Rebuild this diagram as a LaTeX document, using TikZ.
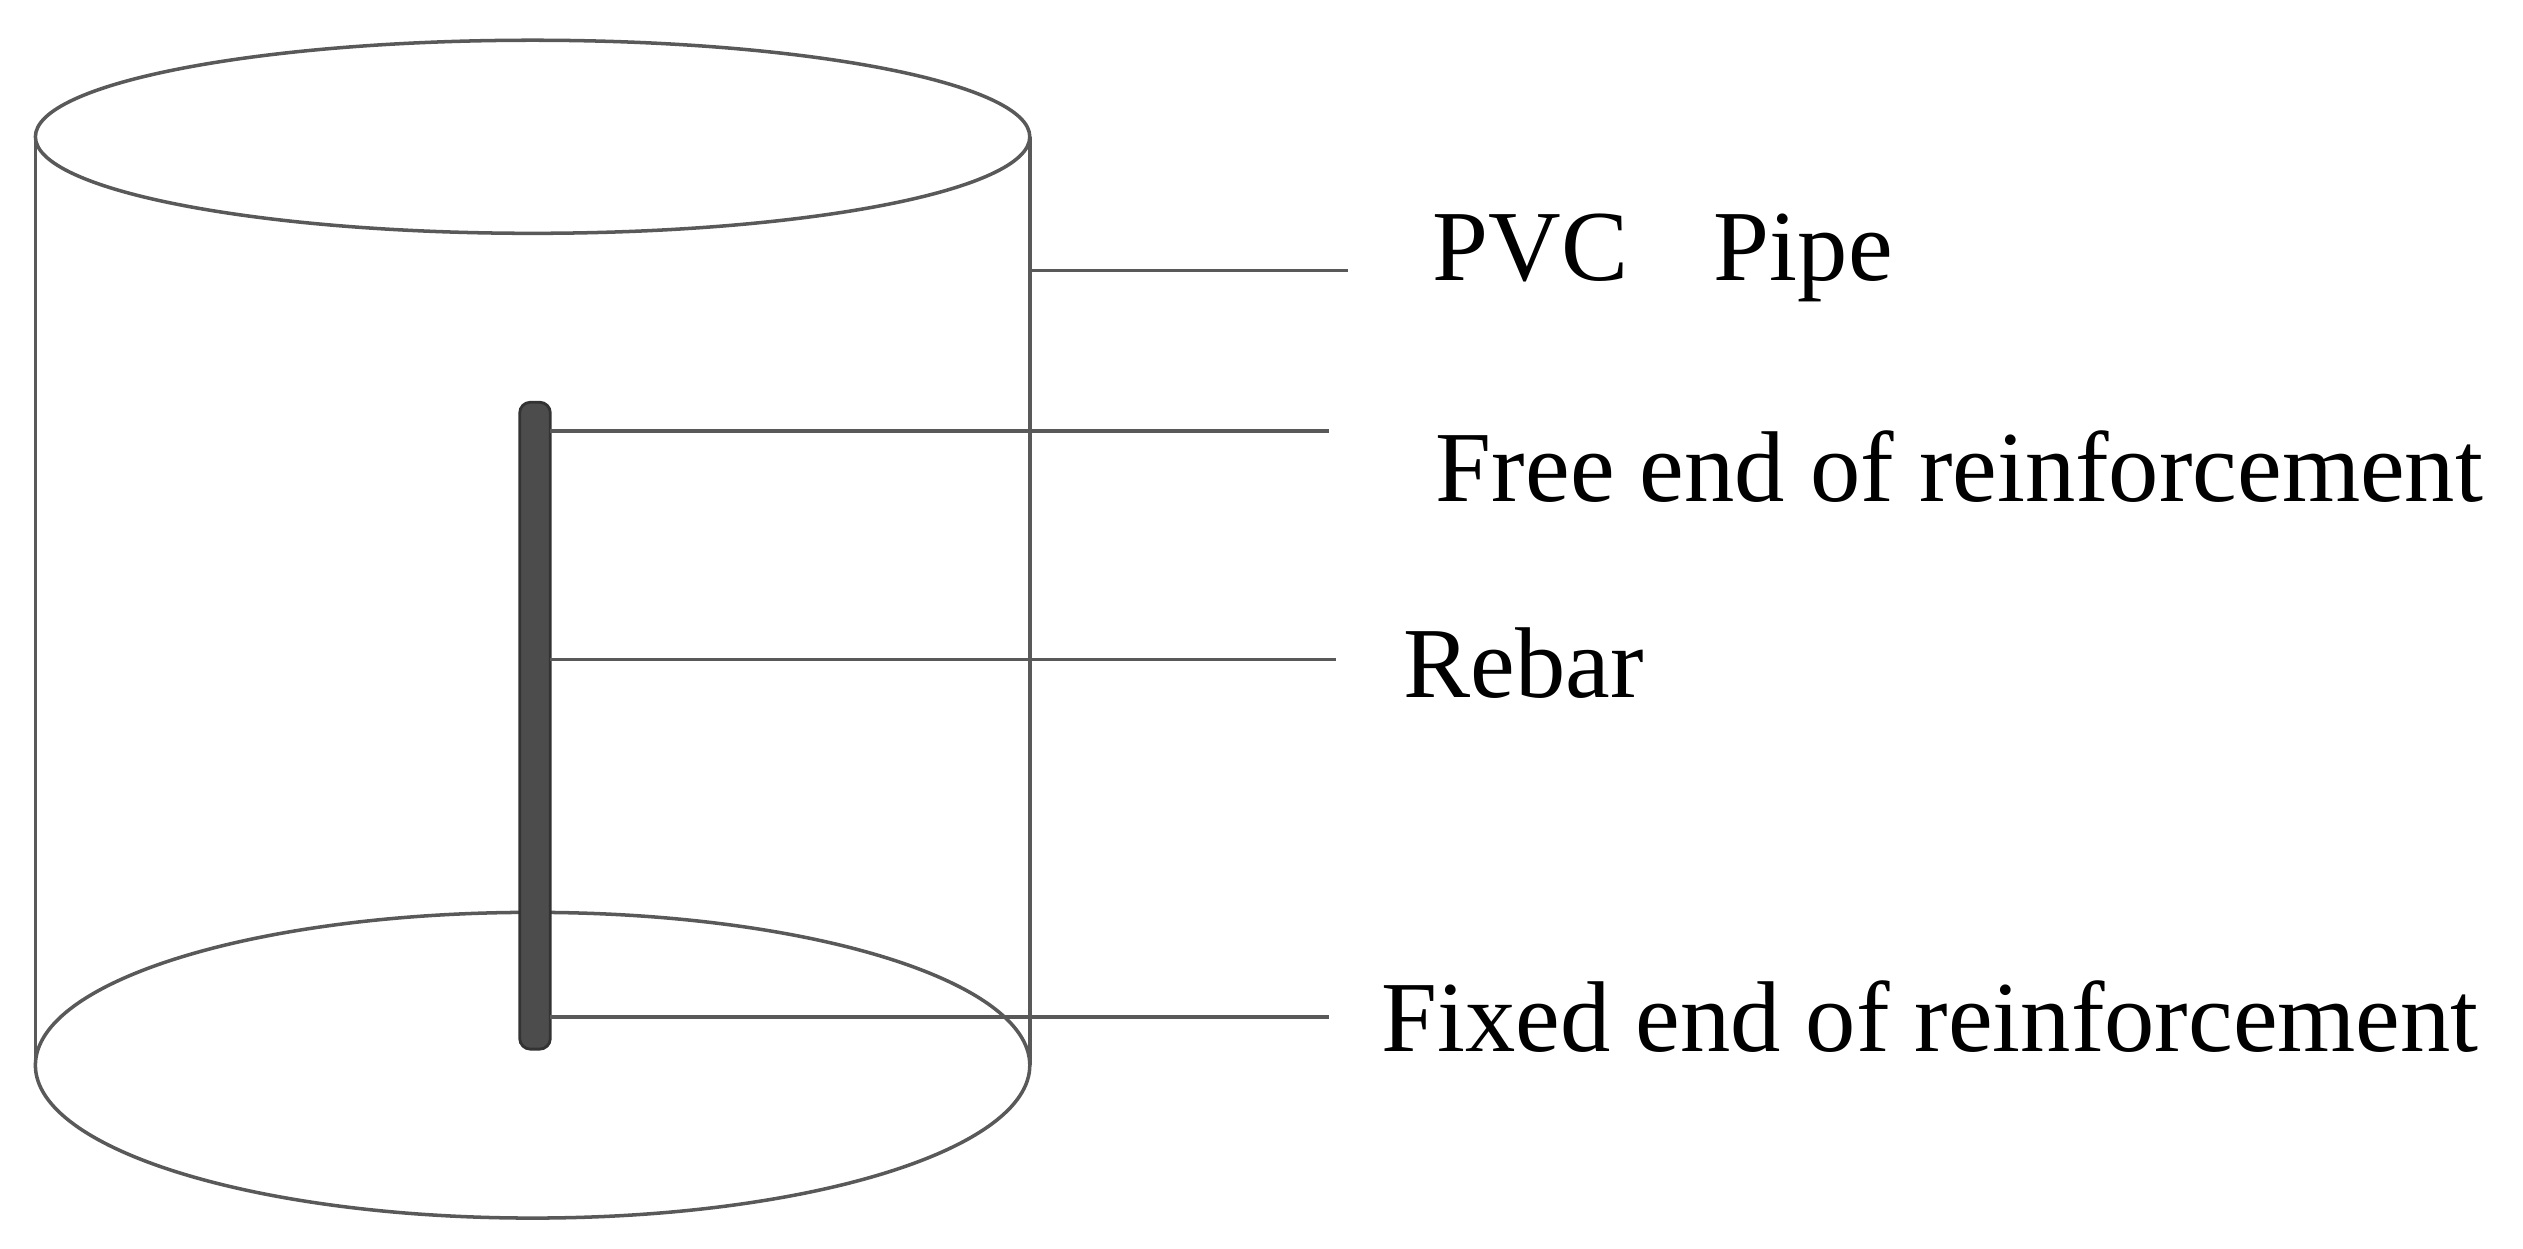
\documentclass[tikz,border=0pt]{standalone}
\usepackage{fontspec}
\setmainfont{Liberation Serif}
\begin{document}
\begin{tikzpicture}[x=0.01609cm,y=-0.01609cm,
  edge/.style={draw=black!65,line width=1pt},
  lab/.style={anchor=west,inner sep=0pt,font=\fontsize{28.6}{32}\selectfont}]
\useasboundingbox (0,0) rectangle (1568,776);
\draw[edge] (331,85) ellipse [x radius=309,y radius=60];
\draw[edge] (331,662) ellipse [x radius=309,y radius=95];
\draw[edge] (22,85) -- (22,662);
\draw[edge] (640,85) -- (640,662);
\draw[fill=black!70,draw=black!80,line width=0.8pt,rounded corners=3pt] (323,250) rectangle (342,652);
\coordinate (p) at (640,168);
\coordinate (f) at (342,268);
\coordinate (r) at (342,410);
\coordinate (x) at (342,632);
\node[lab] (tp) at (890,160) {PVC\hspace{0.85em}Pipe};
\node[lab] (tf) at (892,290) {Free end of reinforcement};
\node[lab] (tr) at (872,412) {Rebar};
\node[lab] (tx) at (858,632) {Fixed end of reinforcement};
\draw[edge] (p) -- (838,168);
\draw[edge] (f) -- (826,268);
\draw[edge] (r) -- (830,410);
\draw[edge] (x) -- (826,632);
\end{tikzpicture}
\end{document}
